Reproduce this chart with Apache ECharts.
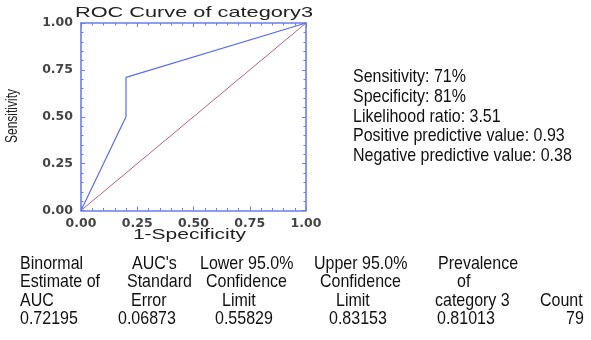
<!DOCTYPE html>
<html>
<head>
<meta charset="utf-8">
<script src="https://cdn.jsdelivr.net/npm/echarts@6/dist/echarts.min.js"></script>
<style>
html,body{margin:0;padding:0;background:#fff;}
#chart{width:591px;height:340px;}
</style>
</head>
<body>
<div id="chart"></div>
<script>
// ---- data ----
const chartTitle = 'ROC Curve of category3';
const xAxisName = '1-Specificity';
const yAxisName = 'Sensitivity';
const rocFpr = [0, 0.2, 0.2, 1];
const rocTpr = [0, 0.5, 0.71, 1];
const refFpr = [0, 1];
const refTpr = [0, 1];
const statLines = [
  'Sensitivity: 71%',
  'Specificity: 81%',
  'Likelihood ratio: 3.51',
  'Positive predictive value: 0.93',
  'Negative predictive value: 0.38'
];
const colBinormal = ['Binormal', 'Estimate of', 'AUC', '0.72195'];
const colStdErr = ["AUC's", 'Standard', 'Error', '0.06873'];
const colLower = ['Lower 95.0%', 'Confidence', 'Limit', '0.55829'];
const colUpper = ['Upper 95.0%', 'Confidence', 'Limit', '0.83153'];
const colPrev = ['Prevalence', 'of', 'category 3', '0.81013'];
const colCount = ['', '', 'Count', '79'];

// ---- layout ----
const G = {left: 81, top: 23, width: 225, height: 187.5};
const axisBlue = '#6c7cf0';
const txtFont = 'Liberation Sans, Arial, sans-serif';

const tableCols = [
  {data: colBinormal, xs: [20, 20, 20, 20]},
  {data: colStdErr, xs: [132, 127, 131, 118]},
  {data: colLower, xs: [200, 206, 222, 215]},
  {data: colUpper, xs: [314, 320, 336, 329]},
  {data: colPrev, xs: [438, 457, 435, 437]},
  {data: colCount, xs: [0, 0, 540, 566]}
];
const rowYs = [264, 282.5, 301, 319.5];
const statX = 353, statY0 = 77, statDy = 19.8;

function txt(text, x, y, opts) {
  opts = opts || {};
  return {
    type: 'text', x: x, y: y,
    scaleX: opts.sx || 1, scaleY: opts.sy || 1,
    rotation: opts.rot || 0,
    silent: true,
    style: {
      text: text, x: 0, y: 0,
      fill: opts.color || '#111',
      font: (opts.weight || 'normal') + ' ' + (opts.size || 16) + 'px ' + txtFont,
      textAlign: opts.align || 'left',
      textVerticalAlign: 'middle'
    }
  };
}

const graphics = [];
graphics.push(txt(chartTitle, 194, 13, {size: 15, sx: 1.45, align: 'center', color: '#222'}));
graphics.push(txt(xAxisName, 189.5, 235, {size: 14, sx: 1.5, align: 'center', color: '#222'}));
graphics.push(txt(yAxisName, 12, 116, {size: 12, sy: 1.45, rot: Math.PI / 2, align: 'center', color: '#222'}));
statLines.forEach(function (s, i) {
  graphics.push(txt(s, statX, statY0 + i * statDy, {size: 16, sy: 1.12}));
});
tableCols.forEach(function (c) {
  c.data.forEach(function (s, r) {
    if (s) graphics.push(txt(s, c.xs[r], rowYs[r], {size: 16, sy: 1.12}));
  });
});

function valueAxis(pos, showLabel) {
  return {
    type: 'value', min: 0, max: 1, interval: 0.25, position: pos,
    axisLine: {show: true, onZero: false, lineStyle: {color: axisBlue, width: 1.6}},
    axisTick: {show: true, inside: true, length: 4, lineStyle: {color: axisBlue}},
    minorTick: {show: true, splitNumber: 5, length: 2.5, lineStyle: {color: axisBlue}},
    splitLine: {show: false},
    axisLabel: showLabel ? {
      show: true,
      color: '#444',
      fontFamily: 'DejaVu Sans',
      fontWeight: 'bold',
      fontSize: 12.5,
      margin: pos === 'left' ? 8 : 7,
      formatter: function (v) { return v.toFixed(2); }
    } : {show: false}
  };
}

const option = {
  animation: false,
  backgroundColor: '#fff',
  grid: G,
  xAxis: [valueAxis('bottom', true), valueAxis('top', false)],
  yAxis: [valueAxis('left', true), valueAxis('right', false)],
  series: [
    {
      type: 'line', xAxisIndex: 0, yAxisIndex: 0, showSymbol: false, symbol: 'none',
      data: refFpr.map(function (x, i) { return [x, refTpr[i]]; }),
      lineStyle: {color: '#b0607e', width: 1}, z: 2
    },
    {
      type: 'line', xAxisIndex: 0, yAxisIndex: 0, showSymbol: false, symbol: 'none',
      data: rocFpr.map(function (x, i) { return [x, rocTpr[i]]; }),
      lineStyle: {color: '#5a6cf0', width: 1.2}, z: 3
    }
  ],
  graphic: graphics
};
const chart = echarts.init(document.getElementById('chart'), null, {renderer: 'canvas'});
chart.setOption(option);
</script>
</body>
</html>
